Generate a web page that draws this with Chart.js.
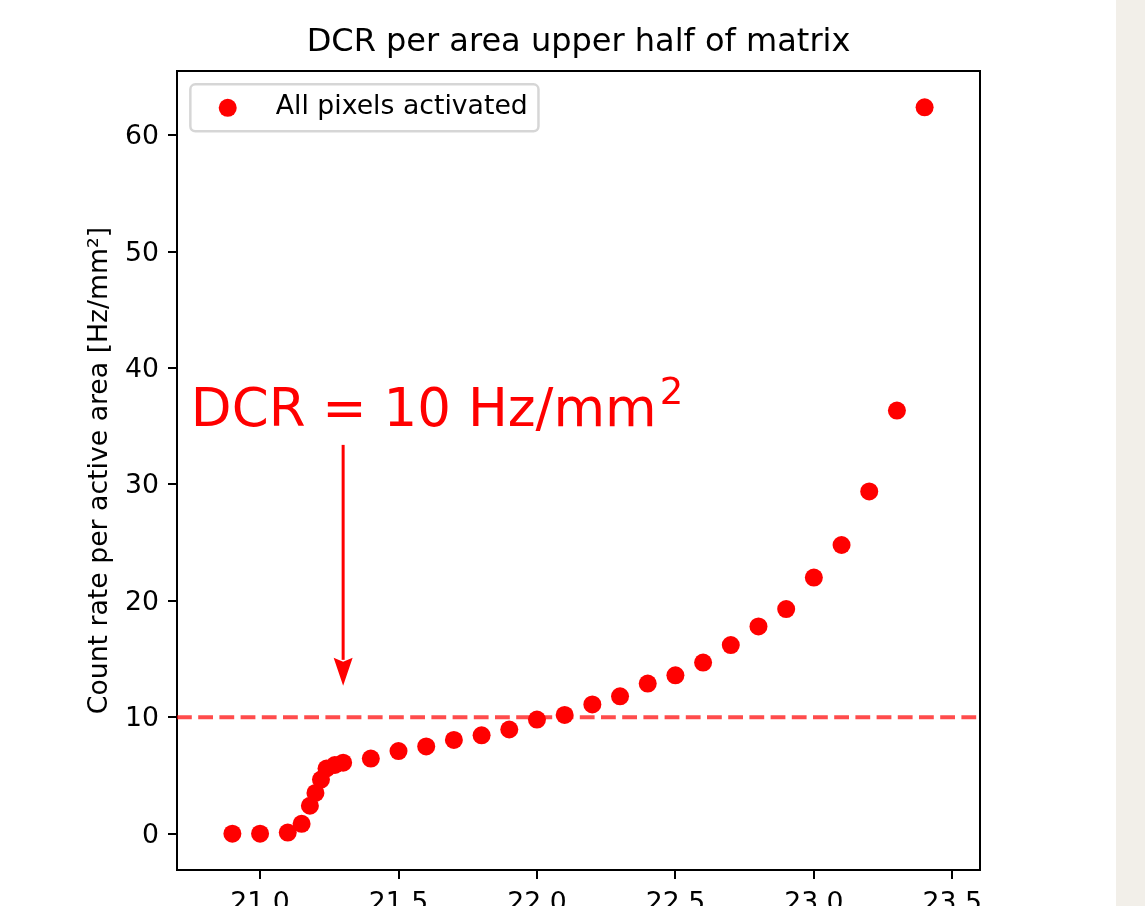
<!DOCTYPE html>
<html>
<head>
<meta charset="utf-8">
<script src="https://cdn.jsdelivr.net/npm/chart.js@4.4.0/dist/chart.umd.min.js"></script>
<style>
  html, body { margin: 0; padding: 0; overflow: hidden; background: #f2efe9; }
  #wrap { position: absolute; left: 0; top: 0; width: 1116px; height: 930px; background: #fff; }
</style>
</head>
<body>
<div id="wrap"><canvas id="grafico" width="1116" height="930"></canvas></div>
<script>
// valores
const overVoltage = [20.9, 21.0, 21.1, 21.15, 21.18, 21.2, 21.22, 21.24, 21.27, 21.3,
    21.4, 21.5, 21.6, 21.7, 21.8, 21.9, 22.0, 22.1, 22.2, 22.3, 22.4, 22.5,
    22.6, 22.7, 22.8, 22.9, 23.0, 23.1, 23.2, 23.3, 23.4];
const dcrPerArea = [0, 0, 0.1, 0.85, 2.4, 3.5, 4.65, 5.6, 5.9, 6.1,
    6.45, 7.1, 7.5, 8.05, 8.45, 8.95, 9.8, 10.2, 11.1, 11.8, 12.9, 13.6,
    14.7, 16.2, 17.8, 19.3, 22.0, 24.8, 29.4, 36.35, 62.4];
const xTicks = [21.0, 21.5, 22.0, 22.5, 23.0, 23.5];
const yTicks = [0, 10, 20, 30, 40, 50, 60];
const xRange = [20.70, 23.60];
const yRange = [-3.12, 65.52];

const dcrLimit = 10;
const noteText = 'DCR = 10 Hz/mm';
const noteSup = '2';
const notePos = [20.75, 35];
const arrowX = 21.3, arrowFrom = 33.4, arrowTo = 12.7;

const FONT = '"DejaVu Sans", sans-serif';
const TICK_SIZE = 26.7;

Chart.defaults.font.family = FONT;
Chart.defaults.color = '#000';

// linha tracejada, moldura, legenda e anotação
const extras = {
    id: 'extras',
    beforeDatasetsDraw(chart) {
        const { ctx, chartArea: a, scales: { y } } = chart;
        const yy = y.getPixelForValue(dcrLimit);
        ctx.save();
        ctx.strokeStyle = 'rgba(255,0,0,0.7)';
        ctx.lineWidth = 4;
        ctx.setLineDash([14.8, 6.4]);
        ctx.beginPath();
        ctx.moveTo(a.left, yy);
        ctx.lineTo(a.right, yy);
        ctx.stroke();
        ctx.restore();
    },
    afterDraw(chart) {
        const { ctx, chartArea: a, scales: { x, y } } = chart;
        ctx.save();

        // spines de cima e da direita
        ctx.strokeStyle = '#000';
        ctx.lineWidth = 2;
        ctx.beginPath();
        ctx.moveTo(a.left, a.top);
        ctx.lineTo(a.right, a.top);
        ctx.lineTo(a.right, a.bottom);
        ctx.stroke();

        // legenda
        const label = chart.data.datasets[0].label;
        const fs = TICK_SIZE;
        ctx.font = `${fs}px ${FONT}`;
        const tw = ctx.measureText(label).width;
        const pad = 0.4 * fs, handle = 2 * fs, gap = 0.8 * fs;
        const bx = a.left + 0.5 * fs, by = a.top + 0.5 * fs;
        const bw = pad * 2 + handle + gap + tw, bh = 47;
        ctx.fillStyle = 'rgba(255,255,255,0.8)';
        ctx.strokeStyle = 'rgba(204,204,204,0.8)';
        ctx.lineWidth = 2.5;
        ctx.beginPath();
        ctx.roundRect(bx, by, bw, bh, 5);
        ctx.fill();
        ctx.stroke();
        ctx.fillStyle = '#ff0000';
        ctx.beginPath();
        ctx.arc(bx + pad + handle / 2, by + bh / 2, 9, 0, Math.PI * 2);
        ctx.fill();
        ctx.fillStyle = '#000';
        ctx.textBaseline = 'middle';
        ctx.textAlign = 'left';
        ctx.fillText(label, bx + pad + handle + gap, by + bh / 2 - 1);

        // anotação DCR
        const tx = x.getPixelForValue(notePos[0]);
        const ty = y.getPixelForValue(notePos[1]);
        ctx.fillStyle = '#ff0000';
        ctx.font = `53px ${FONT}`;
        ctx.textBaseline = 'alphabetic';
        ctx.fillText(noteText, tx, ty);
        const nw = ctx.measureText(noteText).width;
        ctx.font = `37px ${FONT}`;
        ctx.fillText(noteSup, tx + nw + 3, ty - 22);

        const ax = x.getPixelForValue(arrowX);
        const y0 = y.getPixelForValue(arrowFrom);
        const y1 = y.getPixelForValue(arrowTo);
        const headLen = 28, headW = 9.5;
        ctx.strokeStyle = '#ff0000';
        ctx.lineWidth = 3;
        ctx.beginPath();
        ctx.moveTo(ax, y0);
        ctx.lineTo(ax, y1 - headLen + 2);
        ctx.stroke();
        ctx.beginPath();
        ctx.moveTo(ax, y1);
        ctx.lineTo(ax - headW, y1 - headLen);
        ctx.lineTo(ax, y1 - headLen + 4);
        ctx.lineTo(ax + headW, y1 - headLen);
        ctx.closePath();
        ctx.fill();

        ctx.restore();
    }
};

const ctx = document.getElementById('grafico').getContext('2d');
new Chart(ctx, {
    type: 'scatter',
    data: {
        datasets: [{
            label: 'All pixels activated',
            data: overVoltage.map((v, i) => ({ x: v, y: dcrPerArea[i] })),
            backgroundColor: '#ff0000',
            borderColor: '#ff0000',
            borderWidth: 0,
            pointRadius: 9,
            pointHoverRadius: 9
        }]
    },
    options: {
        responsive: false,
        animation: false,
        devicePixelRatio: 1,
        layout: { padding: { left: 84, right: 136, top: 0, bottom: 0 } },
        plugins: {
            legend: { display: false },
            tooltip: { enabled: false },
            title: {
                display: true,
                fullSize: false,
                text: 'DCR per area upper half of matrix',
                color: '#000',
                font: { size: 32, weight: 'normal' },
                padding: { top: 23, bottom: 9.6 }
            }
        },
        scales: {
            x: {
                type: 'linear',
                min: xRange[0],
                max: xRange[1],
                afterBuildTicks: s => { s.ticks = xTicks.map(v => ({ value: v })); },
                afterFit: s => { s.height = 60; },
                ticks: {
                    color: '#000',
                    font: { size: TICK_SIZE },
                    padding: 9,
                    maxRotation: 0,
                    autoSkip: false,
                    callback: v => Number(v).toFixed(1)
                },
                grid: { drawOnChartArea: false, drawTicks: true, tickLength: 9, color: '#000', lineWidth: 2 },
                border: { color: '#000', width: 2 }
            },
            y: {
                type: 'linear',
                min: yRange[0],
                max: yRange[1],
                afterBuildTicks: s => { s.ticks = yTicks.map(v => ({ value: v })); },
                afterFit: s => { s.width = 93; },
                ticks: {
                    color: '#000',
                    font: { size: TICK_SIZE },
                    padding: 9,
                    labelOffset: 2,
                    autoSkip: false,
                    callback: v => String(v)
                },
                grid: { drawOnChartArea: false, drawTicks: true, tickLength: 9, color: '#000', lineWidth: 2 },
                border: { color: '#000', width: 2 },
                title: {
                    display: true,
                    text: 'Count rate per active area [Hz/mm²]',
                    color: '#000',
                    font: { size: TICK_SIZE },
                    padding: 0
                }
            }
        }
    },
    plugins: [extras]
});
</script>
</body>
</html>
